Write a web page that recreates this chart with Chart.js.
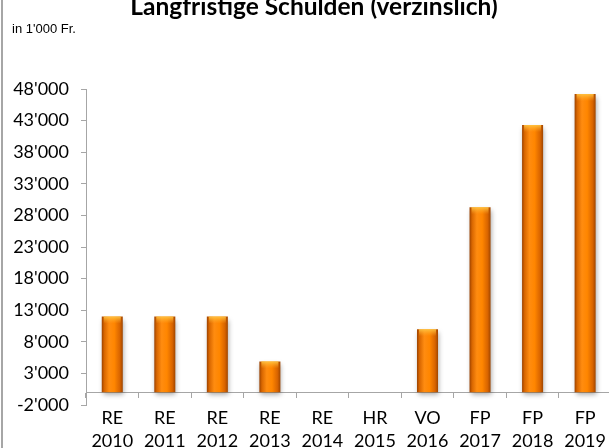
<!DOCTYPE html>
<html>
<head>
<meta charset="utf-8">
<script src="https://cdn.jsdelivr.net/npm/chart.js@4.4.1/dist/chart.umd.min.js"></script>
<style>
  html, body { margin: 0; padding: 0; background: #fff; overflow: hidden; }
  body { width: 609px; height: 448px; position: relative; }
  #wrap { position: absolute; left: 0; top: -10px; width: 616px; height: 458px; }
  #edge { position: absolute; left: 1px; top: 0; width: 2px; height: 448px; background: #a6a6a6; }
</style>
</head>
<body>
<div id="wrap"><canvas id="c" width="616" height="458"></canvas></div>
<div id="edge"></div>
<script>
const types  = ['RE', 'RE', 'RE', 'RE', 'RE', 'HR', 'VO', 'FP', 'FP', 'FP'];
const years  = ['2010', '2011', '2012', '2013', '2014', '2015', '2016', '2017', '2018', '2019'];
const debt   = [12000, 12000, 12000, 4900, 0, 0, 10000, 29300, 42300, 47200];
const yTicks = [-2000, 3000, 8000, 13000, 18000, 23000, 28000, 33000, 38000, 43000, 48000];
const titleText = 'Langfristige Schulden (verzinslich)';
const unitText  = "in 1'000 Fr.";

const labels = types.map((t, i) => [t, years[i]]);
const BAR_PCT = 0.4;

function fmt(v) {
  const s = String(Math.abs(v)).replace(/\B(?=(\d{3})+(?!\d))/g, "'");
  return (v < 0 ? '-' : '') + s;
}

function barFill(c) {
  const chart = c.chart;
  const xs = chart.scales.x;
  if (!xs || !chart.chartArea) return '#ff8400';
  const x = xs.getPixelForValue(c.dataIndex);
  const w = xs.width / labels.length * BAR_PCT;
  const g = chart.ctx.createLinearGradient(x - w / 2, 0, x + w / 2, 0);
  g.addColorStop(0, '#9c4200');
  g.addColorStop(0.12, '#d86600');
  g.addColorStop(0.35, '#ff8c10');
  g.addColorStop(0.6, '#ff8600');
  g.addColorStop(0.86, '#d86400');
  g.addColorStop(1, '#a04600');
  return g;
}

const barShadow = {
  id: 'barShadow',
  beforeDatasetsDraw(chart) {
    const ctx = chart.ctx;
    ctx.save();
    ctx.shadowColor = 'rgba(0,0,0,0.35)';
    ctx.shadowBlur = 5;
    ctx.shadowOffsetX = 1;
    ctx.shadowOffsetY = 3;
  },
  afterDatasetsDraw(chart) {
    const ctx = chart.ctx;
    ctx.restore();
    // light cap on top of each bar
    const meta = chart.getDatasetMeta(0);
    meta.data.forEach((el, i) => {
      if (!debt[i]) return;
      const p = el.getProps(['x', 'y', 'width'], true);
      const g = ctx.createLinearGradient(0, p.y, 0, p.y + 7);
      g.addColorStop(0, 'rgba(255,200,70,0.9)');
      g.addColorStop(1, 'rgba(255,170,40,0)');
      ctx.save();
      ctx.fillStyle = g;
      ctx.fillRect(p.x - p.width / 2 + 2, p.y, p.width - 4, 7);
      ctx.restore();
    });
  }
};

new Chart(document.getElementById('c'), {
  type: 'bar',
  data: {
    labels: labels,
    datasets: [{
      data: debt,
      backgroundColor: barFill,
      borderWidth: 0,
      barPercentage: BAR_PCT,
      categoryPercentage: 1.0
    }]
  },
  plugins: [barShadow],
  options: {
    responsive: false,
    animation: false,
    layout: { padding: { top: 0, left: 12, right: 0, bottom: 43 } },
    plugins: {
      legend: { display: false },
      tooltip: { enabled: false },
      title: {
        display: true,
        text: titleText,
        color: '#000',
        font: { family: 'Lato', size: 24.5, weight: 'bold', lineHeight: 1.2 },
        padding: { top: 2, bottom: 0 }
      },
      subtitle: {
        display: true,
        text: unitText,
        align: 'start',
        color: '#000',
        font: { family: 'Liberation Sans', size: 13, lineHeight: 1.2 },
        padding: { top: 0, bottom: 52 }
      }
    },
    scales: {
      x: {
        position: { y: 0 },
        grid: {
          display: true, drawOnChartArea: false, drawTicks: true,
          tickLength: 5, color: '#a6a6a6', offset: true
        },
        border: { display: true, color: '#a6a6a6', width: 1 },
        ticks: {
          color: '#000', padding: 10, maxRotation: 0, autoSkip: false,
          font: { family: 'Lato', size: 18, lineHeight: 1.25 }
        }
      },
      y: {
        min: -2000,
        max: 48000,
        afterBuildTicks: s => { s.ticks = yTicks.map(v => ({ value: v })); },
        afterFit: s => { s.width = 74; },
        grid: {
          display: true, drawOnChartArea: false, drawTicks: true,
          tickLength: 5, color: '#a6a6a6'
        },
        border: { display: true, color: '#a6a6a6', width: 1 },
        ticks: {
          color: '#000', padding: 12,
          font: { family: 'Lato', size: 18 },
          callback: v => fmt(v)
        }
      }
    }
  }
});
</script>
</body>
</html>
